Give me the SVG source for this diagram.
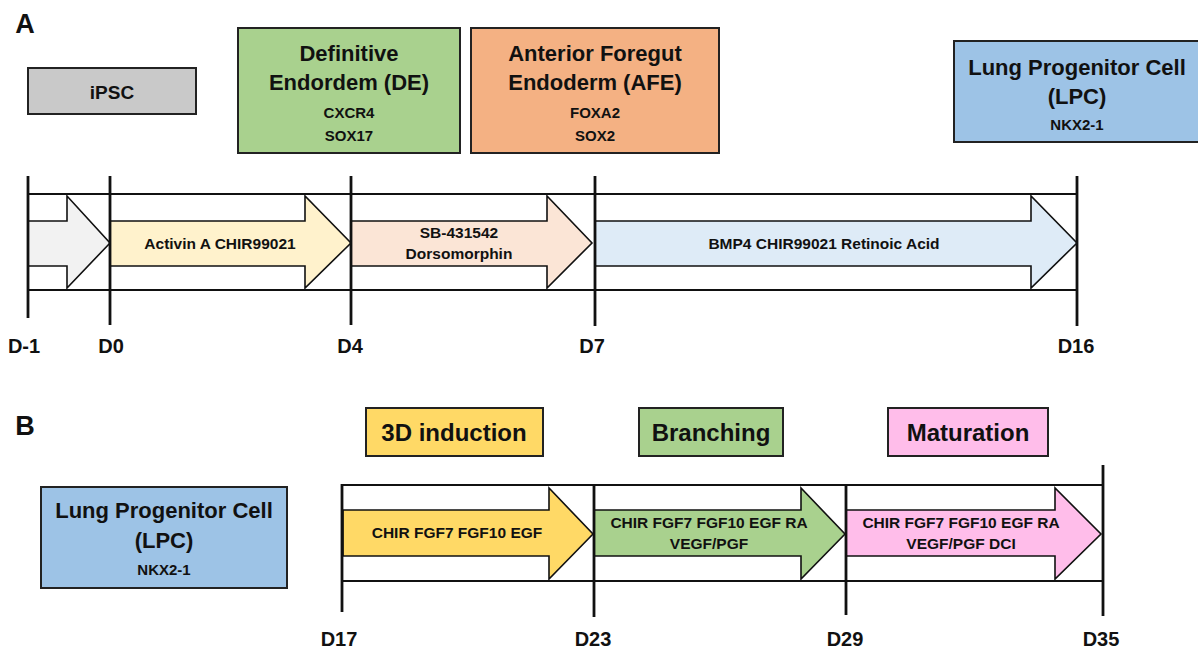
<svg xmlns="http://www.w3.org/2000/svg" width="1198" height="650" viewBox="0 0 1198 650">
<style>
text{font-family:"Liberation Sans",Arial,sans-serif;font-weight:bold;fill:#111;text-anchor:middle}
.box{stroke:#222;stroke-width:2}
.ttl{font-size:22px}
.mk{font-size:15px}
.lbl{font-size:15.5px}
.day{font-size:20px}
.pan{font-size:27px}
.stage{font-size:24px}
.tl{stroke:#111;stroke-width:2;fill:none}
.tick{stroke:#111;stroke-width:2.8;fill:none}
.arr{stroke:#111;stroke-width:1.6;stroke-linejoin:miter}
</style>
<rect width="1198" height="650" fill="#fff"/>
<text class="pan" x="25" y="33">A</text>
<text class="pan" x="25" y="435">B</text>

<g id="ipsc"><rect class="box" x="28" y="68" width="168" height="46" fill="#c9c9c9"/><text style="font-size:19px" x="112" y="99">iPSC</text></g>
<g id="de"><rect class="box" x="238" y="28" width="222" height="125" fill="#a9d18e"/>
<text class="ttl" x="349" y="61">Definitive</text><text class="ttl" x="349" y="90">Endordem (DE)</text>
<text class="mk" x="349" y="118">CXCR4</text><text class="mk" x="349" y="141">SOX17</text></g>
<g id="afe"><rect class="box" x="471" y="28" width="248" height="125" fill="#f4b183"/>
<text class="ttl" x="595" y="61">Anterior Foregut</text><text class="ttl" x="595" y="90">Endoderm (AFE)</text>
<text class="mk" x="595" y="118">FOXA2</text><text class="mk" x="595" y="141">SOX2</text></g>
<g id="lpcA"><rect class="box" x="954" y="41" width="246" height="101" fill="#9dc3e6"/>
<text class="ttl" x="1077" y="75">Lung Progenitor Cell</text><text class="ttl" x="1077" y="104">(LPC)</text>
<text class="mk" x="1077" y="130">NKX2-1</text></g>

<g id="timelineA">
<polygon class="arr" fill="#f2f2f2" points="28,221 67,221 67,196 110,243 67,288 67,266 28,266"/>
<polygon class="arr" fill="#fff2cc" points="110,221 305,221 305,196 351,243 305,288 305,266 110,266"/>
<polygon class="arr" fill="#fbe5d6" points="351,221 547,221 547,196 592,243 547,288 547,266 351,266"/>
<polygon class="arr" fill="#deebf7" points="595,221 1031,221 1031,196 1077,243 1031,288 1031,266 595,266"/>
<line class="tl" x1="28" y1="194" x2="1077" y2="194"/>
<line class="tl" x1="28" y1="290" x2="1077" y2="290"/>
<line class="tick" x1="28" y1="176" x2="28" y2="318"/>
<line class="tick" x1="110" y1="176" x2="110" y2="325"/>
<line class="tick" x1="351" y1="176" x2="351" y2="325"/>
<line class="tick" x1="595" y1="176" x2="595" y2="326"/>
<line class="tick" x1="1077" y1="176" x2="1077" y2="326"/>
<text class="lbl" x="220" y="249">Activin A CHIR99021</text>
<text class="lbl" x="459" y="238">SB-431542</text><text class="lbl" x="459" y="259">Dorsomorphin</text>
<text class="lbl" x="824" y="249">BMP4 CHIR99021 Retinoic Acid</text>
<text class="day" x="24" y="353">D-1</text><text class="day" x="111" y="353">D0</text>
<text class="day" x="350" y="353">D4</text><text class="day" x="592" y="353">D7</text>
<text class="day" x="1076" y="353">D16</text>
</g>

<g id="lpcB"><rect class="box" x="41" y="487" width="246" height="101" fill="#9dc3e6"/>
<text class="ttl" x="164" y="518">Lung Progenitor Cell</text><text class="ttl" x="164" y="548">(LPC)</text>
<text class="mk" x="164" y="575">NKX2-1</text></g>
<g id="induction"><rect class="box" x="366" y="408" width="177" height="48" fill="#ffd966"/><text class="stage" x="454" y="441">3D induction</text></g>
<g id="branching"><rect class="box" x="639" y="408" width="144" height="48" fill="#a9d18e"/><text class="stage" x="711" y="441">Branching</text></g>
<g id="maturation"><rect class="box" x="888" y="408" width="160" height="48" fill="#ffbdea"/><text class="stage" x="968" y="441">Maturation</text></g>

<g id="timelineB">
<polygon class="arr" fill="#ffd966" points="343,510 549,510 549,488 593,534 549,579 549,556 343,556"/>
<polygon class="arr" fill="#a9d18e" points="594,510 801,510 801,488 845,534 801,579 801,556 594,556"/>
<polygon class="arr" fill="#ffbdea" points="846,510 1055,510 1055,488 1101,534 1055,579 1055,556 846,556"/>
<line class="tl" x1="342" y1="485" x2="1103" y2="485"/>
<line class="tl" x1="342" y1="581" x2="1103" y2="581"/>
<line class="tick" x1="342" y1="484" x2="342" y2="612"/>
<line class="tick" x1="594" y1="486" x2="594" y2="617"/>
<line class="tick" x1="846" y1="486" x2="846" y2="615"/>
<line class="tick" x1="1103" y1="465" x2="1103" y2="616"/>
<text class="lbl" x="457" y="538">CHIR FGF7 FGF10 EGF</text>
<text class="lbl" x="709" y="528">CHIR FGF7 FGF10 EGF RA</text><text class="lbl" x="709" y="549">VEGF/PGF</text>
<text class="lbl" x="961" y="528">CHIR FGF7 FGF10 EGF RA</text><text class="lbl" x="961" y="549">VEGF/PGF DCI</text>
<text class="day" x="339" y="646">D17</text><text class="day" x="593" y="646">D23</text>
<text class="day" x="845" y="646">D29</text><text class="day" x="1101" y="646">D35</text>
</g>
</svg>
